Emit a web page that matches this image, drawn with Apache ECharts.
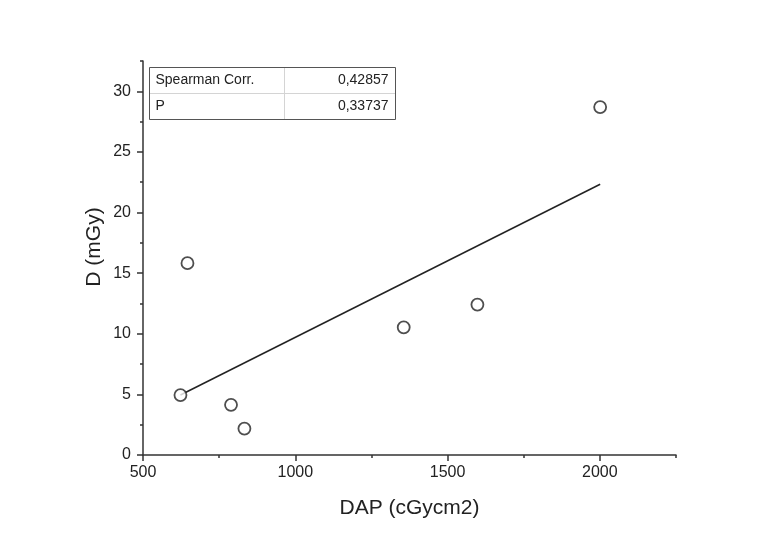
<!DOCTYPE html>
<html>
<head>
<meta charset="utf-8">
<script src="https://cdn.jsdelivr.net/npm/echarts@6/dist/echarts.min.js"></script>
<style>
  html, body { margin: 0; padding: 0; background: #fff; }
  #chart { width: 770px; height: 540px; }
</style>
</head>
<body>
<div id="chart"></div>
<script>
// Measured dose vs. dose-area product
const dapValues = [623, 646, 789, 833, 1356, 1598, 2001];
const doseValues = [4.94, 15.82, 4.14, 2.18, 10.53, 12.41, 28.7];

// Linear fit endpoints
const fitDap = [623, 2001];
const fitDose = [4.95, 22.33];

// Correlation summary table
const statNames = ['Spearman Corr.', 'P'];
const statValues = ['0,42857', '0,33737'];

// Axis ticks
const xMajorTicks = [500, 1000, 1500, 2000];
const yMajorTicks = [0, 5, 10, 15, 20, 25, 30];

const FONT = '"Liberation Sans", Arial, sans-serif';
const INK = '#222';

const scatterData = dapValues.map((x, i) => [x, doseValues[i]]);
const fitData = fitDap.map((x, i) => [x, fitDose[i]]);

const chart = echarts.init(document.getElementById('chart'), null, { renderer: 'canvas' });

const axisLineStyle = { color: '#333', width: 1.5 };
const plainNumber = v => String(v);

// Table geometry
const tbl = { x: 149.5, y: 67.5, w: 246, rowH: 26, colX: 284 };
const tableGraphics = [];
tableGraphics.push({
  type: 'rect',
  shape: { x: tbl.x, y: tbl.y, width: tbl.w, height: tbl.rowH * statNames.length },
  style: { fill: '#fff', stroke: '#555', lineWidth: 1 },
  z: 100
});
for (let r = 1; r < statNames.length; r++) {
  tableGraphics.push({
    type: 'line',
    shape: { x1: tbl.x + 0.5, y1: tbl.y + tbl.rowH * r, x2: tbl.x + tbl.w - 0.5, y2: tbl.y + tbl.rowH * r },
    style: { stroke: '#d4d4d4', lineWidth: 1 },
    z: 101
  });
}
tableGraphics.push({
  type: 'line',
  shape: { x1: tbl.colX + 0.5, y1: tbl.y + 0.5, x2: tbl.colX + 0.5, y2: tbl.y + tbl.rowH * statNames.length - 0.5 },
  style: { stroke: '#d4d4d4', lineWidth: 1 },
  z: 101
});
statNames.forEach((name, r) => {
  const cy = tbl.y + tbl.rowH * r + tbl.rowH / 2;
  tableGraphics.push({
    type: 'text',
    x: tbl.x + 6, y: cy,
    style: { text: name, font: '14px ' + FONT, fill: INK, textAlign: 'left', textVerticalAlign: 'middle' },
    z: 102
  });
  tableGraphics.push({
    type: 'text',
    x: tbl.x + tbl.w - 7, y: cy,
    style: { text: statValues[r], font: '14px ' + FONT, fill: INK, textAlign: 'right', textVerticalAlign: 'middle' },
    z: 102
  });
});

const option = {
  backgroundColor: '#fff',
  animation: false,
  textStyle: { fontFamily: FONT },
  grid: { left: 143, right: 94, top: 61, bottom: 85, containLabel: false },
  xAxis: [
    {
      type: 'value', min: 500, max: 2250, interval: 500,
      name: 'DAP (cGycm2)', nameLocation: 'middle', nameGap: 43,
      nameTextStyle: { fontSize: 21, color: INK, fontFamily: FONT },
      axisLine: { show: true, onZero: false, lineStyle: axisLineStyle },
      axisTick: { show: true, inside: false, length: 6, customValues: xMajorTicks, lineStyle: axisLineStyle },
      axisLabel: { show: true, customValues: xMajorTicks, formatter: plainNumber, fontSize: 16, color: INK, margin: 10, fontFamily: FONT },
      splitLine: { show: false }
    },
    {
      // minor ticks
      type: 'value', min: 500, max: 2250, interval: 250, position: 'bottom',
      axisLine: { show: false },
      axisTick: { show: true, inside: false, length: 3, lineStyle: axisLineStyle },
      axisLabel: { show: false },
      splitLine: { show: false }
    }
  ],
  yAxis: [
    {
      type: 'value', min: 0, max: 32.5, interval: 5,
      name: 'D (mGy)', nameLocation: 'middle', nameGap: 38, nameRotate: 90,
      nameMoveOverlap: false,
      nameTextStyle: { fontSize: 21, color: INK, fontFamily: FONT, padding: [0, 0, 0, 22] },
      axisLine: { show: true, onZero: false, lineStyle: axisLineStyle },
      axisTick: { show: true, inside: false, length: 6, customValues: yMajorTicks, lineStyle: axisLineStyle },
      axisLabel: { show: true, customValues: yMajorTicks, formatter: plainNumber, fontSize: 16, color: INK, margin: 12, fontFamily: FONT },
      splitLine: { show: false }
    },
    {
      // minor ticks
      type: 'value', min: 0, max: 32.5, interval: 2.5, position: 'left',
      axisLine: { show: false },
      axisTick: { show: true, inside: false, length: 3, lineStyle: axisLineStyle },
      axisLabel: { show: false },
      splitLine: { show: false }
    }
  ],
  series: [
    {
      type: 'line',
      data: fitData,
      xAxisIndex: 0, yAxisIndex: 0,
      showSymbol: false,
      symbol: 'none',
      lineStyle: { color: INK, width: 1.5 },
      z: 2
    },
    {
      type: 'scatter',
      data: scatterData,
      xAxisIndex: 0, yAxisIndex: 0,
      symbol: 'circle',
      symbolSize: 12,
      itemStyle: { color: '#fff', borderColor: INK, borderWidth: 1.8 },
      z: 3
    }
  ],
  graphic: tableGraphics
};

chart.setOption(option);
</script>
</body>
</html>
